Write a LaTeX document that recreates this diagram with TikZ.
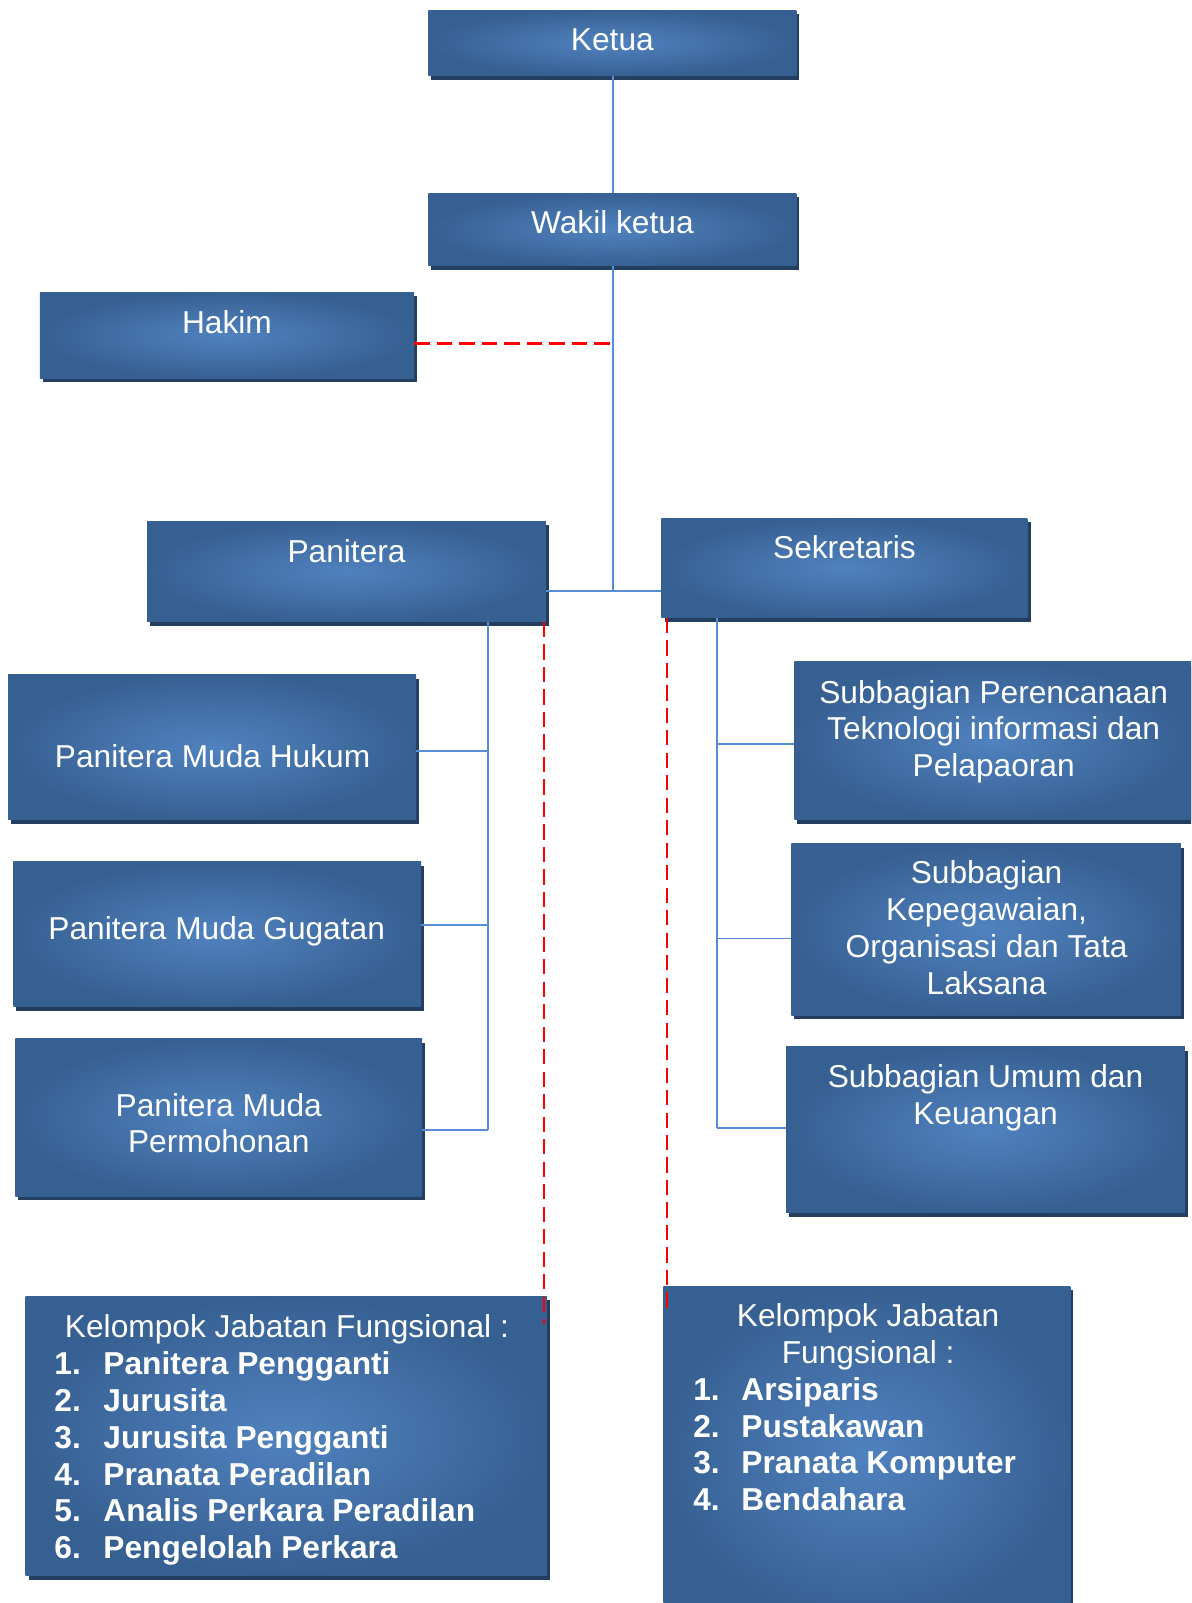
\documentclass[tikz,border=0pt]{standalone}
\usepackage{fontspec}
\setmainfont{Liberation Sans}
\usetikzlibrary{shadows}
\definecolor{boxin}{RGB}{80,130,191}
\definecolor{boxout}{RGB}{55,96,146}
\definecolor{shadowc}{RGB}{36,62,95}
\definecolor{linkc}{RGB}{88,140,212}
\tikzset{
 box/.style={rectangle, inner sep=0pt, shade, inner color=boxin, outer color=boxout,
   drop shadow={shadow xshift=3pt, shadow yshift=-4pt, fill=shadowc, opacity=1}},
 txt/.style={text=white, inner sep=0pt, font=\fontsize{31}{36}\selectfont},
 link/.style={draw=linkc, line width=1.8pt},
 rdash/.style={draw=red, line width=2pt, dash pattern=on 15pt off 7pt}
}
\begin{document}
\begin{tikzpicture}[x=1pt,y=-1pt]
\useasboundingbox (0,0) rectangle (1165,1568);
\clip (0,0) rectangle (1165,1568);
% boxes
\node[box, minimum width=360pt, minimum height=64pt] (ketua) at (599,42) {};
\node[box, minimum width=360pt, minimum height=71pt] (wakil) at (599,224.5) {};
\node[box, minimum width=366pt, minimum height=84pt] (hakim) at (222,328) {};
\node[box, minimum width=390pt, minimum height=98pt] (panitera) at (339,559) {};
\node[box, minimum width=358pt, minimum height=97pt] (sekretaris) at (826,555.5) {};
\node[box, minimum width=399pt, minimum height=142pt] (pmh) at (207.5,731) {};
\node[box, minimum width=399pt, minimum height=142pt] (pmg) at (212.5,914) {};
\node[box, minimum width=398pt, minimum height=154pt] (pmp) at (214,1093) {};
\node[box, minimum width=388pt, minimum height=155pt] (sp1) at (971,724.5) {};
\node[box, minimum width=381pt, minimum height=168pt] (sp2) at (964.5,909) {};
\node[box, minimum width=390pt, minimum height=162pt] (sp3) at (964,1105) {};
\node[box, minimum width=510pt, minimum height=273pt] (kjf1) at (280,1404.5) {};
\node[box, minimum width=398pt, minimum height=330pt] (kjf2) at (848,1423) {};
% texts
\node[txt, anchor=base] (ketuaT) at (599,49) {Ketua};
\node[txt, anchor=base] (wakilT) at (599,228) {Wakil ketua};
\node[txt, anchor=base] (hakimT) at (222,326) {Hakim};
\node[txt, anchor=base] (paniteraT) at (339,550) {Panitera};
\node[txt, anchor=base] (sekretarisT) at (826,546) {Sekretaris};
\node[txt, anchor=base] (pmhT) at (208,751) {Panitera Muda Hukum};
\node[txt, anchor=base] (pmgT) at (212,919) {Panitera Muda Gugatan};
\node[txt, align=center, anchor=north] (pmpT) at (214,1069) {Panitera Muda\\Permohonan};
\node[txt, align=center, anchor=north] (sp1T) at (972,665) {Subbagian Perencanaan\\Teknologi informasi dan\\Pelapaoran};
\node[txt, align=center, anchor=north] (sp2T) at (965,842) {Subbagian\\Kepegawaian,\\Organisasi dan Tata\\Laksana};
\node[txt, align=center, anchor=north] (sp3T) at (964,1041) {Subbagian Umum dan\\Keuangan};
\node[txt, align=left, anchor=north west] (kjf1T) at (53,1286) {%
\makebox[455pt][c]{Kelompok Jabatan Fungsional :}\\
\textbf{\makebox[48pt][l]{1.}Panitera Pengganti}\\
\textbf{\makebox[48pt][l]{2.}Jurusita}\\
\textbf{\makebox[48pt][l]{3.}Jurusita Pengganti}\\
\textbf{\makebox[48pt][l]{4.}Pranata Peradilan}\\
\textbf{\makebox[48pt][l]{5.}Analis Perkara Peradilan}\\
\textbf{\makebox[48pt][l]{6.}Pengelolah Perkara}};
\node[txt, align=left, anchor=north west] (kjf2T) at (678,1275) {%
\makebox[342pt][c]{Kelompok Jabatan}\\
\makebox[342pt][c]{Fungsional :}\\
\textbf{\makebox[47pt][l]{1.}Arsiparis}\\
\textbf{\makebox[47pt][l]{2.}Pustakawan}\\
\textbf{\makebox[47pt][l]{3.}Pranata Komputer}\\
\textbf{\makebox[47pt][l]{4.}Bendahara}};
% coordinates
\coordinate (j) at (600,578);
\coordinate (hk) at (598,336);
\coordinate (b1) at (477,735);
\coordinate (b2) at (477,905);
\coordinate (b3) at (477,1105);
\coordinate (s1) at (701,728);
\coordinate (s2) at (701,918);
\coordinate (s3) at (701,1103);
\coordinate (d1) at (532,1295);
\coordinate (d2) at (652,1283);
% connectors
\draw[link] (ketua.south -| j) -- (wakil.north -| j);
\draw[link] (wakil.south -| j) -- (j);
\draw[link] (panitera.east |- j) -- (sekretaris.west |- j);
\draw[link] (panitera.south -| b3) -- (b3);
\draw[link] (pmh.east |- b1) -- (b1);
\draw[link] (pmg.east |- b2) -- (b2);
\draw[link] (pmp.east |- b3) -- (b3);
\draw[link] (sekretaris.south -| s3) -- (s3);
\draw[link] (s1) -- (sp1.west |- s1);
\draw[link] (s2) -- (sp2.west |- s2);
\draw[link] (s3) -- (sp3.west |- s3);
\draw[rdash] (hakim.east |- hk) -- (hk);
\draw[rdash] (panitera.south -| d1) -- (d1);
\draw[rdash] (sekretaris.south -| d2) -- (d2);
\end{tikzpicture}
\end{document}
